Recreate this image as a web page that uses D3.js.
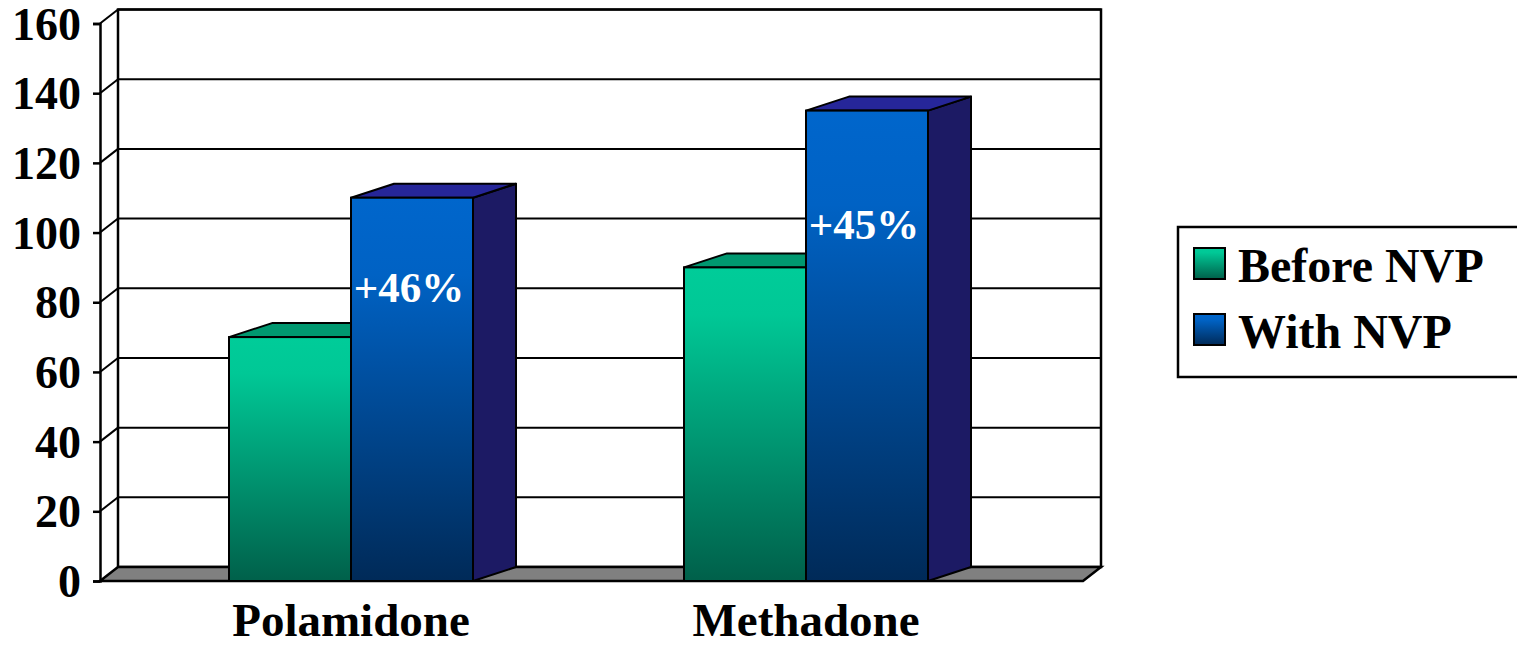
<!DOCTYPE html>
<html>
<head>
<meta charset="utf-8">
<script src="https://cdn.jsdelivr.net/npm/d3@7"></script>
<style>
  html, body { margin: 0; padding: 0; background: #fff; }
  svg { display: block; }
</style>
</head>
<body>
<svg id="chart" width="1517" height="648"></svg>
<script>
// ---- data ----
const categories = ["Polamidone", "Methadone"];
const seriesNames = ["Before NVP", "With NVP"];
const beforeValues = [70, 90];
const withValues = [110, 135];
const changeLabels = ["+46%", "+45%"];
const yTicks = [0, 20, 40, 60, 80, 100, 120, 140, 160];

const FONT = "Liberation Serif, DejaVu Serif, serif";

const svg = d3.select("#chart");
const defs = svg.append("defs");

function grad(id, stops) {
  const g = defs.append("linearGradient").attr("id", id)
    .attr("x1", 0).attr("y1", 0).attr("x2", 0).attr("y2", 1);
  stops.forEach(s => g.append("stop").attr("offset", s[0]).attr("stop-color", s[1]));
}
grad("gGreen", [[0, "#00CC99"], [0.15, "#00C896"], [1, "#00604A"]]);
grad("gBlue", [[0, "#0066CC"], [0.2, "#0062C4"], [1, "#002A58"]]);

const faceFill = ["url(#gGreen)", "url(#gBlue)"];
const topFill = ["#009870", "#262699"];
const sideFill = ["#006E52", "#1C1A64"];

// ---- scales ----
const y = d3.scaleLinear().domain([0, 160]).range([581, 23.5]);
const x0 = d3.scalePoint().domain(categories).range([351, 806]);
const x1 = d3.scaleBand().domain(seriesNames).range([-122, 122]);

const axisX = 100, floorRight = 1083;
const wdx = 18, wdy = -14;     // wall depth
const bdx = 43, bdy = -14;     // bar depth

// back wall
svg.append("rect")
  .attr("x", axisX + wdx).attr("y", y(160) + wdy)
  .attr("width", floorRight - axisX).attr("height", y(0) - y(160))
  .attr("fill", "#fff").attr("stroke", "#000").attr("stroke-width", 2.5);

// gridlines on back wall and side wall
const grid = svg.append("g");
yTicks.filter(t => t > 0).forEach(t => {
  grid.append("line")
    .attr("x1", axisX + wdx).attr("x2", floorRight + wdx)
    .attr("y1", y(t) + wdy).attr("y2", y(t) + wdy)
    .attr("stroke", "#000").attr("stroke-width", 2);
  grid.append("line")
    .attr("x1", axisX).attr("x2", axisX + wdx)
    .attr("y1", y(t)).attr("y2", y(t) + wdy)
    .attr("stroke", "#000").attr("stroke-width", 2);
});

// floor
svg.append("polygon")
  .attr("points", [[axisX, y(0)], [floorRight, y(0)], [floorRight + wdx, y(0) + wdy], [axisX + wdx, y(0) + wdy]].join(" "))
  .attr("fill", "#808080").attr("stroke", "#000").attr("stroke-width", 2.5);

// y axis
const yAxis = d3.axisLeft(y).tickValues(yTicks).tickSize(7).tickPadding(12).tickFormat(d3.format("d"));
const ya = svg.append("g").attr("transform", `translate(${axisX},0)`).call(yAxis)
  .attr("font-family", FONT).attr("font-weight", "bold").attr("font-size", 46);
ya.select(".domain").attr("stroke", "#000").attr("stroke-width", 2.5);
ya.selectAll(".tick line").attr("stroke", "#000").attr("stroke-width", 2.5);
ya.selectAll(".tick text").attr("fill", "#000").attr("dy", "0.34em");

// bars
const valuesBySeries = [beforeValues, withValues];
categories.forEach((cat, ci) => {
  const g = svg.append("g");
  seriesNames.forEach((s, si) => {
    const v = valuesBySeries[si][ci];
    const xl = x0(cat) + x1(s);
    const w = x1.bandwidth();
    const yt = y(v), yb = y(0);
    g.append("polygon")
      .attr("points", [[xl + w, yt], [xl + w + bdx, yt + bdy], [xl + w + bdx, yb + bdy], [xl + w, yb]].join(" "))
      .attr("fill", sideFill[si]).attr("stroke", "#000").attr("stroke-width", 2).attr("stroke-linejoin", "round");
    g.append("polygon")
      .attr("points", [[xl, yt], [xl + bdx, yt + bdy], [xl + w + bdx, yt + bdy], [xl + w, yt]].join(" "))
      .attr("fill", topFill[si]).attr("stroke", "#000").attr("stroke-width", 2).attr("stroke-linejoin", "round");
    g.append("rect")
      .attr("x", xl).attr("y", yt).attr("width", w).attr("height", yb - yt)
      .attr("fill", faceFill[si]).attr("stroke", "#000").attr("stroke-width", 2);
  });
  const xb = x0(cat) + x1(seriesNames[1]) + x1.bandwidth() / 2 - 3;
  const yl = y(withValues[ci]) + 0.272 * (y(0) - y(withValues[ci]));
  g.append("text")
    .attr("x", xb).attr("y", yl)
    .attr("text-anchor", "middle").attr("font-family", FONT).attr("font-weight", "bold")
    .attr("font-size", 43).attr("fill", "#fff")
    .text(changeLabels[ci]);
  svg.append("text")
    .attr("x", x0(cat)).attr("y", 636)
    .attr("text-anchor", "middle").attr("font-family", FONT).attr("font-weight", "bold")
    .attr("font-size", 47).attr("fill", "#000")
    .text(cat);
});

// legend
const lg = svg.append("g");
lg.append("rect").attr("x", 1178).attr("y", 227).attr("width", 360).attr("height", 150)
  .attr("fill", "#fff").attr("stroke", "#000").attr("stroke-width", 2.5);
const legendY = d3.scalePoint().domain(seriesNames).range([264, 330]);
seriesNames.forEach((s, si) => {
  lg.append("rect").attr("x", 1194).attr("y", legendY(s) - 16).attr("width", 31).attr("height", 31)
    .attr("fill", faceFill[si]).attr("stroke", "#000").attr("stroke-width", 2);
  lg.append("text").attr("x", 1238).attr("y", legendY(s) + 18)
    .attr("font-family", FONT).attr("font-weight", "bold")
    .attr("font-size", 48).attr("fill", "#000").text(s);
});
</script>
</body>
</html>
